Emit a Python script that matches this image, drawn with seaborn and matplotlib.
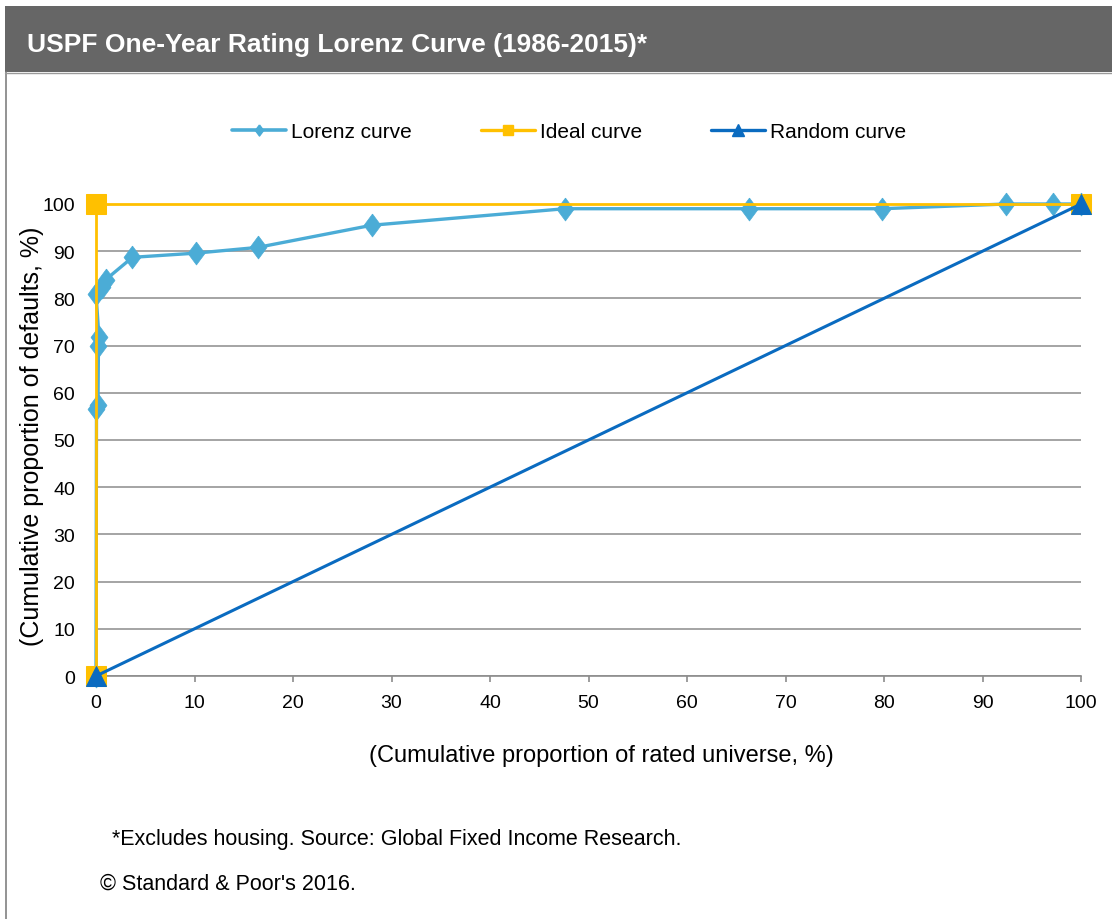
import matplotlib
matplotlib.use("Agg")
import matplotlib.pyplot as plt
import seaborn as sns
import pandas as pd
from matplotlib.lines import Line2D
from matplotlib.patches import Rectangle

# ---- data ----
lorenz_x = [0, 0.05, 0.2, 0.25, 0.3, 0.0, 0.6, 1.0, 3.7, 10.2, 16.4, 28.0, 47.6, 66.3, 79.8, 92.4, 97.2, 100]
lorenz_y = [0, 56.5, 57.5, 70.0, 71.8, 81.0, 82.5, 84.0, 88.7, 89.6, 90.8, 95.5, 99.0, 99.0, 99.0, 100, 100, 100]
ideal_x = [0, 0, 100]
ideal_y = [0, 100, 100]
random_x = [0, 100]
random_y = [0, 100]
x_ticks = [0, 10, 20, 30, 40, 50, 60, 70, 80, 90, 100]
y_ticks = [0, 10, 20, 30, 40, 50, 60, 70, 80, 90, 100]

title = "USPF One-Year Rating Lorenz Curve (1986-2015)*"
xlabel = "(Cumulative proportion of rated universe, %)"
ylabel = "(Cumulative proportion of defaults, %)"
note1 = "*Excludes housing. Source: Global Fixed Income Research."
note2 = "\u00a9 Standard & Poor's 2016."

c_lorenz = "#4BACD6"
c_ideal = "#FFC000"
c_random = "#0A6BC0"

# diamond marker, slightly narrower than tall
diamond = [(0, 1), (0.74, 0), (0, -1), (-0.74, 0), (0, 1)]

sns.set_theme(style="white")
plt.rcParams['font.family'] = ['Liberation Sans', 'DejaVu Sans']

W, H = 1112, 920
fig = plt.figure(figsize=(W / 100, H / 100), dpi=100)

# title band and frame
fig.patches.append(Rectangle((5 / W, 1 - 73 / H), 1 - 5 / W, 66 / H, transform=fig.transFigure,
                             facecolor="#666666", edgecolor="none", zorder=0))
fig.add_artist(Line2D([5.5 / W, 5.5 / W], [0, 1 - 73 / H], transform=fig.transFigure,
                      color="#808080", lw=1.2))
fig.add_artist(Line2D([5 / W, 1], [1 - 73.5 / H, 1 - 73.5 / H], transform=fig.transFigure,
                      color="#9a9a9a", lw=1.0))
fig.text(27 / W, 1 - 52 / H, title, color="white", fontsize=19, fontweight="bold",
         va="baseline", ha="left")

ax = fig.add_axes([96 / W, 1 - 677 / H, (1081 - 96) / W, (677 - 205) / H])

df_l = pd.DataFrame({"x": lorenz_x, "y": lorenz_y})
df_i = pd.DataFrame({"x": ideal_x, "y": ideal_y})
df_r = pd.DataFrame({"x": random_x, "y": random_y})

sns.lineplot(data=df_l, x="x", y="y", ax=ax, color=c_lorenz, lw=2.4, marker=diamond, markersize=16.5,
             markeredgecolor=c_lorenz, markeredgewidth=0.5, estimator=None, sort=False,
             clip_on=False, zorder=3)
sns.lineplot(data=df_i, x="x", y="y", ax=ax, color=c_ideal, lw=2.0, marker="s", markersize=14,
             markeredgecolor=c_ideal, estimator=None, sort=False, clip_on=False, zorder=4)
sns.lineplot(data=df_r, x="x", y="y", ax=ax, color=c_random, lw=2.2, marker="^", markersize=14,
             markeredgecolor=c_random, estimator=None, sort=False, clip_on=False, zorder=5)

ax.set_xlim(0, 100)
ax.set_ylim(0, 100)
ax.set_xticks(x_ticks)
ax.set_yticks(y_ticks)
ax.yaxis.grid(True, color="#8c8c8c", lw=1.1)
ax.xaxis.grid(False)
ax.set_axisbelow(True)
for s in ["top", "right", "left"]:
    ax.spines[s].set_visible(False)
ax.spines["bottom"].set_color("#8c8c8c")
ax.spines["bottom"].set_linewidth(1.2)
ax.tick_params(axis="y", labelsize=14, colors="#000000", length=0, pad=15, left=False)
ax.tick_params(axis="x", labelsize=14, labelcolor="#000000", color="#8c8c8c", direction="out",
               length=4.3, width=1.2, pad=9, bottom=True)
ax.set_xlabel(xlabel, fontsize=17, color="#000000")
ax.set_ylabel(ylabel, fontsize=18, color="#000000")
ax.xaxis.set_label_coords((601 - 96) / (1081 - 96), (677 - 745) / (677 - 205))
ax.yaxis.set_label_coords((44 - 96) / (1081 - 96), (677 - 436) / (677 - 205))

handles = [
    Line2D([], [], color=c_lorenz, lw=2.6, marker=diamond, markersize=8),
    Line2D([], [], color=c_ideal, lw=2.4, marker="s", markersize=7),
    Line2D([], [], color=c_random, lw=2.4, marker="^", markersize=8),
]
fig.legend(handles, ["Lorenz curve", "Ideal curve", "Random curve"], loc="center",
           bbox_to_anchor=(569 / W, 1 - 133 / H), ncol=3, frameon=False, fontsize=15,
           handlelength=2.6, columnspacing=3.3, handletextpad=0.25, labelcolor="#000000")

fig.text(112 / W, 1 - 840 / H, note1, fontsize=15.5, va="center", ha="left", color="#000000")
fig.text(100 / W, 1 - 884 / H, note2, fontsize=15.5, va="center", ha="left", color="#000000")

fig.savefig("out.png", dpi=100)
